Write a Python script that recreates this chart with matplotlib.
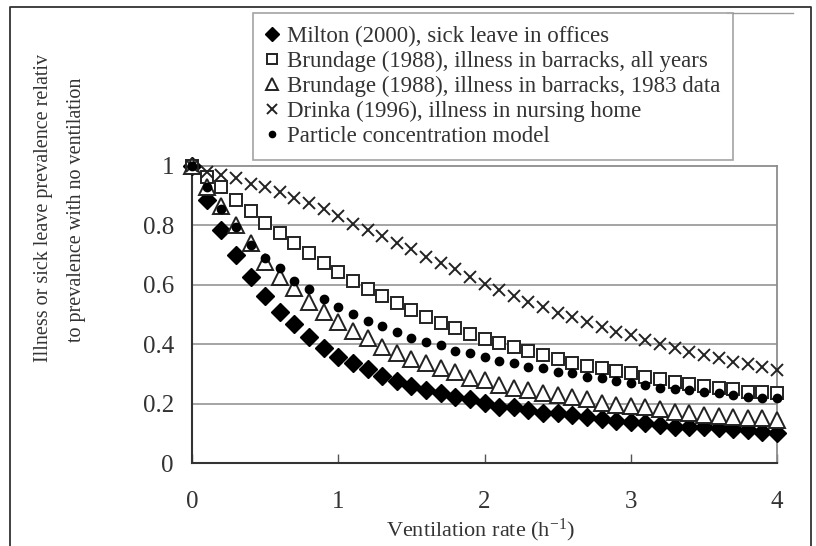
import matplotlib
matplotlib.use("Agg")
import matplotlib.pyplot as plt
from matplotlib.lines import Line2D

# Data
rate = [0.0, 0.1, 0.2, 0.3, 0.4, 0.5, 0.6, 0.7, 0.8, 0.9,
        1.0, 1.1, 1.2, 1.3, 1.4, 1.5, 1.6, 1.7, 1.8, 1.9,
        2.0, 2.1, 2.2, 2.3, 2.4, 2.5, 2.6, 2.7, 2.8, 2.9,
        3.0, 3.1, 3.2, 3.3, 3.4, 3.5, 3.6, 3.7, 3.8, 3.9, 4.0]

milton = [1.0, 0.885, 0.785, 0.70, 0.625, 0.562, 0.509, 0.467, 0.423, 0.388,
          0.358, 0.336, 0.315, 0.293, 0.277, 0.260, 0.246, 0.235, 0.221, 0.214,
          0.201, 0.190, 0.187, 0.178, 0.169, 0.167, 0.161, 0.154, 0.147, 0.142,
          0.139, 0.133, 0.128, 0.122, 0.122, 0.120, 0.117, 0.113, 0.111, 0.105, 0.102]

brundage_all = [1.0, 0.964, 0.928, 0.886, 0.85, 0.807, 0.773, 0.74, 0.708, 0.674,
                0.644, 0.613, 0.586, 0.562, 0.54, 0.515, 0.493, 0.472, 0.453, 0.434,
                0.418, 0.405, 0.392, 0.378, 0.364, 0.349, 0.338, 0.327, 0.319, 0.311,
                0.302, 0.289, 0.282, 0.274, 0.266, 0.259, 0.251, 0.248, 0.24, 0.24, 0.235]

brundage_1983 = [1.0, 0.93, 0.864, 0.80, 0.74, 0.678, 0.627, 0.588, 0.543, 0.51,
                 0.476, 0.446, 0.42, 0.392, 0.369, 0.349, 0.336, 0.319, 0.307, 0.285,
                 0.28, 0.263, 0.251, 0.246, 0.235, 0.229, 0.223, 0.214, 0.203, 0.195,
                 0.192, 0.19, 0.181, 0.173, 0.167, 0.162, 0.158, 0.154, 0.15, 0.15, 0.145]

drinka = [1.0, 0.981, 0.97, 0.959, 0.941, 0.93, 0.914, 0.891, 0.874, 0.854,
          0.83, 0.805, 0.785, 0.764, 0.74, 0.72, 0.695, 0.672, 0.652, 0.627,
          0.604, 0.581, 0.562, 0.543, 0.526, 0.506, 0.49, 0.476, 0.459, 0.441,
          0.431, 0.414, 0.40, 0.386, 0.375, 0.364, 0.352, 0.341, 0.333, 0.324, 0.313]

model = [1.0, 0.93, 0.854, 0.796, 0.734, 0.689, 0.655, 0.614, 0.585, 0.551,
         0.526, 0.502, 0.479, 0.462, 0.442, 0.42, 0.408, 0.397, 0.378, 0.371,
         0.356, 0.342, 0.338, 0.324, 0.319, 0.307, 0.302, 0.289, 0.285, 0.277,
         0.27, 0.263, 0.251, 0.248, 0.246, 0.24, 0.235, 0.229, 0.223, 0.218, 0.218]

labels = ["Milton (2000), sick leave in offices",
          "Brundage (1988), illness in barracks, all years",
          "Brundage (1988), illness in barracks, 1983 data",
          "Drinka (1996), illness in nursing home",
          "Particle concentration model"]

xticks = [0, 1, 2, 3, 4]
yticks = [0, 0.2, 0.4, 0.6, 0.8, 1]
ytick_labels = ["0", "0.2", "0.4", "0.6", "0.8", "1"]

plt.rcParams["font.family"] = ["Liberation Serif", "DejaVu Serif"]
plt.rcParams["mathtext.fontset"] = "custom"
plt.rcParams["mathtext.rm"] = "Liberation Serif"
plt.rcParams["mathtext.it"] = "Liberation Serif"

W, H = 816, 546
fig = plt.figure(figsize=(W / 100, H / 100), dpi=100)
ax = fig.add_axes([192 / W, 1 - 463 / H, 585 / W, 297 / H])

ax.plot(rate, milton, ls="none", marker="D", ms=9, color="black",
        clip_on=False, label=labels[0], zorder=3)
ax.plot(rate, brundage_all, ls="none", marker="s", ms=9, mfc="white",
        mec="#222222", mew=1.4, clip_on=False, label=labels[1], zorder=3)
ax.plot(rate, brundage_1983, ls="none", marker="^", ms=11, mfc="white",
        mec="#222222", mew=1.4, clip_on=False, label=labels[2], zorder=3)
ax.plot(rate, drinka, ls="none", marker="x", ms=9, color="#222222",
        mew=1.4, clip_on=False, label=labels[3], zorder=3)
ax.plot(rate, model, ls="none", marker="o", ms=6, color="black",
        clip_on=False, label=labels[4], zorder=4)

ax.set_xlim(0, 4)
ax.set_ylim(0, 1)
ax.set_xticks(xticks)
ax.set_yticks(yticks)
ax.set_yticklabels(ytick_labels)
ax.tick_params(axis="x", direction="in", length=6.5, width=1, color="#555555",
               labelsize=18, labelcolor="#333333", pad=20)
ax.tick_params(axis="y", length=0, labelsize=18, labelcolor="#333333", pad=13)

for y in yticks[1:-1]:
    ax.axhline(y, color="#8c8c8c", lw=1.1, zorder=1)

ax.spines["left"].set_color("#333333")
ax.spines["bottom"].set_color("#333333")
ax.spines["left"].set_linewidth(1.5)
ax.spines["bottom"].set_linewidth(1.5)
ax.spines["top"].set_color("#8c8c8c")
ax.spines["right"].set_color("#8c8c8c")
ax.spines["top"].set_linewidth(1.3)
ax.spines["right"].set_linewidth(1.3)

# Axis titles
fig.text(480 / W, 1 - 530 / H, r"Ventilation rate (h$^{\mathrm{-1}}$)",
         ha="center", va="center", fontsize=16, color="#333333")
fig.text(44 / W, 1 - 208 / H, "Illness or sick leave prevalence relativ",
         rotation=90, ha="center", va="center", fontsize=14.5, color="#333333")
fig.text(77 / W, 1 - 210 / H, "to prevalence with no ventilation",
         rotation=90, ha="center", va="center", fontsize=14.5, color="#333333")

# Legend
handles, _ = ax.get_legend_handles_labels()
leg = fig.legend(handles, labels, loc="upper left",
                 bbox_to_anchor=(253 / W, 1 - 13 / H),
                 bbox_transform=fig.transFigure, borderaxespad=0,
                 prop={"size": 16.5}, frameon=True, fancybox=False,
                 markerscale=0.75, handlelength=0.6, handletextpad=0.35,
                 labelspacing=0.17, borderpad=0.55)
leg.get_frame().set_edgecolor("#8c8c8c")
leg.get_frame().set_linewidth(1.2)
for t in leg.get_texts():
    t.set_color("#333333")

# Outer frame
fig.add_artist(Line2D([10 / W, 10 / W, 811 / W, 811 / W],
                      [0, 1 - 7 / H, 1 - 7 / H, 0],
                      transform=fig.transFigure, color="#333333", lw=1.3))
fig.add_artist(Line2D([727 / W, 793 / W], [1 - 13 / H, 1 - 13 / H],
                      transform=fig.transFigure, color="#9a9a9a", lw=1.0))

plt.savefig("out.png", dpi=100)
